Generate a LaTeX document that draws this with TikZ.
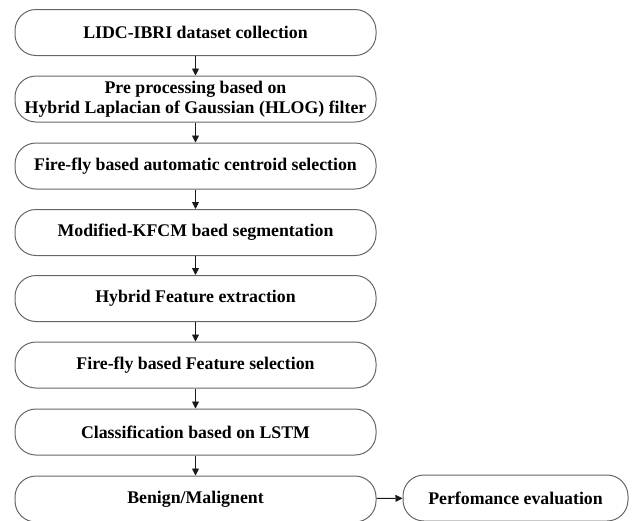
\documentclass[tikz,border=0pt]{standalone}
\usepackage{fontspec}
\setmainfont{Liberation Serif}
\usetikzlibrary{arrows.meta}

\tikzset{
  stagebox/.style={rectangle, draw=black!60, line width=1pt, rounded corners=21pt,
    minimum width=361pt, minimum height=46pt, align=center,
    font=\bfseries\fontsize{17.8}{20.5}\selectfont},
  flow/.style={draw=black!90, line width=0.9pt, -{Triangle[width=7pt,length=7pt]}}
}

\begin{document}
\begin{tikzpicture}[x=1pt,y=-1pt]
          % Variables
          \def \midx  {195.5}
          \def \perfx {515.5}

          \useasboundingbox (0,0) rectangle (632,520);

          % Stages
          \node[stagebox] (lidc)  at (\midx,32.5)  {LIDC-IBRI dataset collection};
          \node[stagebox] (prep)  at (\midx,99)    {Pre processing based on\\Hybrid Laplacian of Gaussian (HLOG) filter};
          \node[stagebox] (cent)  at (\midx,166)   {Fire-fly based automatic centroid selection};
          \node[stagebox] (kfcm)  at (\midx,232.5) {Modified-KFCM baed segmentation};
          \node[stagebox] (feat)  at (\midx,298.5) {Hybrid Feature extraction};
          \node[stagebox] (fsel)  at (\midx,365)   {Fire-fly based Feature selection};
          \node[stagebox] (lstm)  at (\midx,432)   {Classification based on LSTM};
          \node[stagebox] (bm)    at (\midx,499)   {Benign/Malignent};
          \node[stagebox, minimum width=225pt] (perf) at (\perfx,498) {Perfomance evaluation};

          % Arrows
          \draw[flow] (lidc) -- (prep);
          \draw[flow] (prep) -- (cent);
          \draw[flow] (cent) -- (kfcm);
          \draw[flow] (kfcm) -- (feat);
          \draw[flow] (feat) -- (fsel);
          \draw[flow] (fsel) -- (lstm);
          \draw[flow] (lstm) -- (bm);
          \draw[flow] (bm) -- (perf);

\end{tikzpicture}
\end{document}
